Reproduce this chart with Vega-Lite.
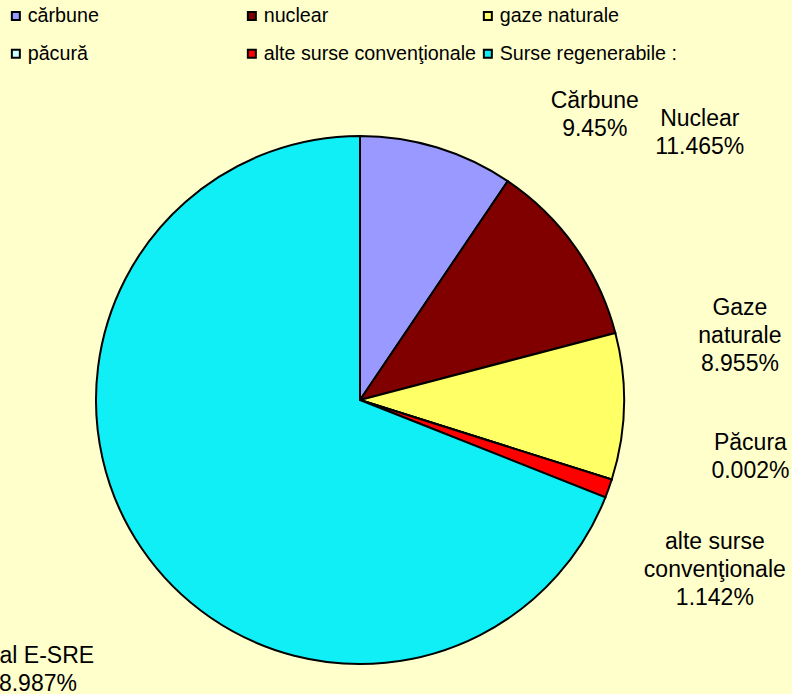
{
  "$schema": "https://vega.github.io/schema/vega-lite/v6.json",
  "width": 792,
  "height": 694,
  "padding": 0,
  "autosize": {"type": "none"},
  "background": "#FFFFCC",
  "config": {"view": {"stroke": null}, "font": "Liberation Sans"},
  "data": {"values": [
    {"i": 1, "k": "cărbune", "label": "Cărbune\n9.45%", "v": 9.45},
    {"i": 2, "k": "nuclear", "label": "Nuclear\n11.465%", "v": 11.465},
    {"i": 3, "k": "gaze naturale", "label": "Gaze\nnaturale\n8.955%", "v": 8.955},
    {"i": 4, "k": "păcură", "label": "Păcura\n0.002%", "v": 0.002},
    {"i": 5, "k": "alte surse convenţionale", "label": "alte surse\nconvenţionale\n1.142%", "v": 1.142},
    {"i": 6, "k": "Surse regenerabile :", "label": "Total E-SRE\n68.987%", "v": 68.987}
  ]},
  "encoding": {
    "theta": {"field": "v", "type": "quantitative", "stack": true},
    "order": {"field": "i", "type": "quantitative"},
    "detail": {"field": "k", "type": "nominal"}
  },
  "layer": [
    {
      "mark": {"type": "arc", "x": 360, "y": 400, "outerRadius": 264, "stroke": "#000000", "strokeWidth": 2},
      "encoding": {
        "color": {
          "field": "k", "type": "nominal",
          "scale": {
            "domain": ["cărbune", "nuclear", "gaze naturale", "păcură", "alte surse convenţionale", "Surse regenerabile :"],
            "range": ["#9999FF", "#800000", "#FFFF66", "#CCFFFF", "#FF0000", "#10EEF6"]
          },
          "legend": {
            "orient": "none", "legendX": 6, "legendY": 6, "columns": 3, "direction": "horizontal", "gridAlign": "all",
            "title": null, "symbolType": "square", "symbolSize": 64,
            "symbolStrokeColor": "#000000", "symbolStrokeWidth": 2,
            "labelFont": "Liberation Sans", "labelFontSize": 19.7, "labelColor": "#000000",
            "labelLimit": 400, "labelOffset": 2, "rowPadding": 17, "columnPadding": 1, "padding": 0
          }
        }
      }
    },
    {
      "mark": {"type": "text", "x": 360, "y": 400, "radius": 300, "dx": 147, "dy": -12, "font": "Liberation Sans", "fontSize": 23, "lineHeight": 28, "lineBreak": "\n", "align": "center", "baseline": "middle", "color": "#000000"},
      "encoding": {"text": {"condition": {"test": "datum.i == 1", "field": "label", "type": "nominal"}, "value": ""}}
    },
    {
      "mark": {"type": "text", "x": 360, "y": 400, "radius": 430, "dx": -11, "dy": -32, "font": "Liberation Sans", "fontSize": 23, "lineHeight": 28, "lineBreak": "\n", "align": "center", "baseline": "middle", "color": "#000000"},
      "encoding": {"text": {"condition": {"test": "datum.i == 2", "field": "label", "type": "nominal"}, "value": ""}}
    },
    {
      "mark": {"type": "text", "x": 360, "y": 400, "radius": 380, "dx": 0, "dy": -101, "font": "Liberation Sans", "fontSize": 23, "lineHeight": 28, "lineBreak": "\n", "align": "center", "baseline": "middle", "color": "#000000"},
      "encoding": {"text": {"condition": {"test": "datum.i == 3", "field": "label", "type": "nominal"}, "value": ""}}
    },
    {
      "mark": {"type": "text", "x": 360, "y": 400, "radius": 400, "dx": 9, "dy": -78, "font": "Liberation Sans", "fontSize": 23, "lineHeight": 28, "lineBreak": "\n", "align": "center", "baseline": "middle", "color": "#000000"},
      "encoding": {"text": {"condition": {"test": "datum.i == 4", "field": "label", "type": "nominal"}, "value": ""}}
    },
    {
      "mark": {"type": "text", "x": 360, "y": 400, "radius": 400, "dx": -22, "dy": 8, "font": "Liberation Sans", "fontSize": 23, "lineHeight": 28, "lineBreak": "\n", "align": "center", "baseline": "middle", "color": "#000000"},
      "encoding": {"text": {"condition": {"test": "datum.i == 5", "field": "label", "type": "nominal"}, "value": ""}}
    },
    {
      "mark": {"type": "text", "x": 360, "y": 400, "radius": 420, "dx": 19, "dy": 20, "font": "Liberation Sans", "fontSize": 23, "lineHeight": 28, "lineBreak": "\n", "align": "center", "baseline": "middle", "color": "#000000"},
      "encoding": {"text": {"condition": {"test": "datum.i == 6", "field": "label", "type": "nominal"}, "value": ""}}
    }
  ]
}
